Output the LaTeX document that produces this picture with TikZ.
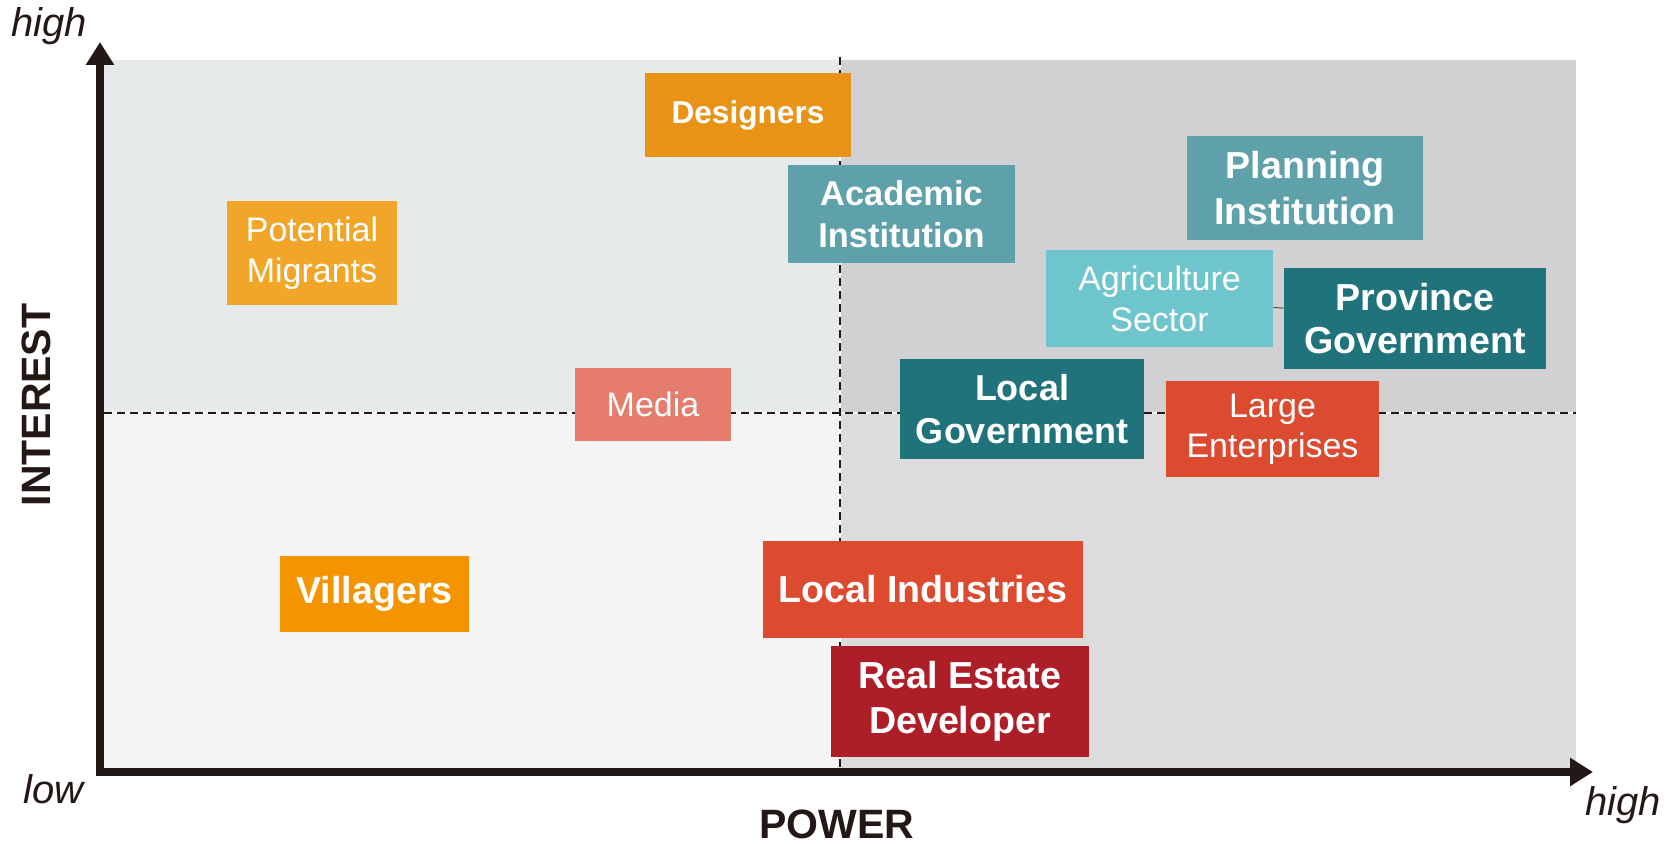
\documentclass[tikz,border=0pt]{standalone}
\usepackage{fontspec}
\setmainfont{Liberation Sans}
\usepackage{xcolor}
\definecolor{Ink}{HTML}{231815}
\definecolor{QuadTL}{HTML}{E6EAEB}
\definecolor{QuadTR}{HTML}{D1D1D3}
\definecolor{QuadBL}{HTML}{F4F4F4}
\definecolor{QuadBR}{HTML}{DCDCDC}
\definecolor{Amber}{HTML}{E89316}
\definecolor{Apricot}{HTML}{F2A629}
\definecolor{Tangerine}{HTML}{F39400}
\definecolor{Teal}{HTML}{5FA1AA}
\definecolor{Aqua}{HTML}{6EC6CC}
\definecolor{Petrol}{HTML}{20727B}
\definecolor{Salmon}{HTML}{E67C6B}
\definecolor{Vermil}{HTML}{DC4A30}
\definecolor{Crimson}{HTML}{AE1E28}
\usetikzlibrary{arrows.meta}

\begin{document}
\begin{tikzpicture}[x=0.5pt,y=-0.5pt,
  stake/.style={inner sep=0pt, align=center, text=white},
  plain/.style={font=\fontsize{17}{20.5}\selectfont},
  heavy/.style={font=\bfseries\fontsize{18.8}{22.5}\selectfont},
  axlabel/.style={text=Ink, inner sep=0pt, font=\itshape\fontsize{20}{24}\selectfont},
  axtitle/.style={text=Ink, inner sep=0pt, font=\bfseries\fontsize{20.5}{24}\selectfont},
  split/.style={Ink, line width=0.6pt, dash pattern=on 4pt off 2.5pt},
  axis/.style={Ink, line width=4pt, line join=miter,
    {Triangle[length=11.5pt,width=13.5pt]}-{Triangle[length=11.5pt,width=13.5pt]}}
]
\useasboundingbox (0,0) rectangle (1680,844);

% quadrants
\fill[QuadTL] (104,60) rectangle (840,413);
\fill[QuadTR] (840,60) rectangle (1576,413);
\fill[QuadBL] (104,413) rectangle (840,768);
\fill[QuadBR] (840,413) rectangle (1576,768);

\draw[white, line width=1.4pt] (840,57) -- (840,768);
\draw[white, line width=1.4pt] (104,413) -- (1576,413);
\draw[split] (840,57) -- (840,768);
\draw[split] (104,413) -- (1576,413);

% axes
\draw[axis] (100,42) -- (100,772) -- (1593,772);

\node[axlabel, anchor=base west] (yhigh) at (11,37) {high};
\node[axlabel, anchor=base west] (low) at (23,803) {low};
\node[axlabel, anchor=base west] (xhigh) at (1585,815) {high};
\node[axtitle, rotate=90, anchor=base] (interest) at (50,405) {INTEREST};
\node[axtitle, anchor=base] (power) at (837,838) {POWER};

% stakeholders
\node[stake, fill=Amber, minimum width=103pt, minimum height=42pt,
  font=\bfseries\fontsize{15.8}{19}\selectfont] (des) at (748,115) {Designers};
\node[stake, heavy, fill=Teal, minimum width=113.5pt, minimum height=49pt,
  font=\bfseries\fontsize{17.2}{21}\selectfont] (acad) at (901.5,214) {Academic\\Institution};
\node[stake, plain, fill=Apricot, minimum width=85pt, minimum height=52pt] (migr) at (312,253) {Potential\\Migrants};
\node[stake, heavy, fill=Teal, minimum width=118pt, minimum height=52pt,
  font=\bfseries\fontsize{18.8}{23}\selectfont] (plan) at (1305,188) {Planning\\Institution};
\node[stake, plain, fill=Aqua, minimum width=113.5pt, minimum height=48.5pt] (agri) at (1159.5,298.5) {Agriculture\\Sector};
\node[stake, heavy, fill=Petrol, minimum width=131pt, minimum height=50.5pt,
  font=\bfseries\fontsize{18.8}{21.5}\selectfont] (prov) at (1415,318.5) {Province\\Government};
\node[stake, fill=Petrol, minimum width=122pt, minimum height=50pt,
  font=\bfseries\fontsize{18}{21.5}\selectfont] (lgov) at (1022,409) {Local\\Government};
\node[stake, plain, fill=Salmon, minimum width=78pt, minimum height=36pt] (media) at (653,404.5) {Media};
\node[stake, plain, fill=Vermil, minimum width=106.5pt, minimum height=48pt,
  font=\fontsize{17}{20}\selectfont] (large) at (1272.5,429) {Large\\Enterprises};
\node[stake, heavy, fill=Tangerine, minimum width=94.5pt, minimum height=38pt] (vill) at (374.5,594) {Villagers};
\node[stake, heavy, fill=Vermil, minimum width=160pt, minimum height=48.5pt] (lind) at (923,589.5) {Local Industries};
\node[stake, heavy, fill=Crimson, minimum width=129pt, minimum height=55.5pt] (real) at (960,701.5) {Real Estate\\Developer};

\draw[Ink!80, line width=0.5pt] (agri) -- (prov);

\end{tikzpicture}
\end{document}
